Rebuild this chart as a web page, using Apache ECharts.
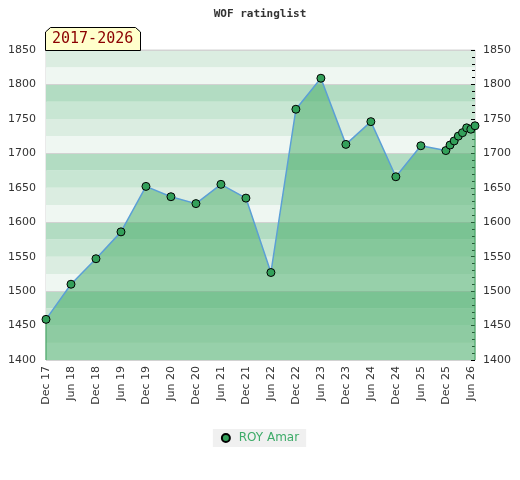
<!DOCTYPE html>
<html>
<head>
<meta charset="utf-8">
<script src="https://cdn.jsdelivr.net/npm/echarts@6/dist/echarts.min.js"></script>
<style>html,body{margin:0;padding:0;background:#fff;}#c{width:520px;height:480px;}</style>
</head>
<body>
<div id="c"></div>
<script>
var titleText = 'WOF ratinglist';
var periodText = '2017-2026';
var seriesName = 'ROY Amar';
var dates = ['2017-12','2018-06','2018-12','2019-06','2019-12','2020-06','2020-12','2021-06','2021-12','2022-06','2022-12','2023-06','2023-12','2024-06','2024-12','2025-06','2025-12','2026-01','2026-02','2026-03','2026-04','2026-05','2026-06','2026-07'];
var ratings = [1459,1510,1547,1586,1652,1637,1627,1655,1635,1527,1764,1809,1713,1746,1666,1711,1704,1712,1718,1725,1730,1737,1735,1740];
var monthNames = ['Jan','Feb','Mar','Apr','May','Jun','Jul','Aug','Sep','Oct','Nov','Dec'];
var startYear = 2017, startMonth = 12;
var yMin = 1400, yMax = 1850;

function monthIndex(s){
  var p = s.split('-');
  return (parseInt(p[0],10)*12 + parseInt(p[1],10)-1) - (startYear*12 + startMonth-1);
}
function indexLabel(i){
  var t = startYear*12 + startMonth-1 + i;
  return monthNames[t%12] + ' ' + String(Math.floor(t/12)%100).padStart(2,'0');
}
var pts = dates.map(function(d,k){ return [monthIndex(d), ratings[k]]; });
var xMax = pts[pts.length-1][0];
var firstPt = pts[0], lastPt = pts[pts.length-1];
function plain(v){ return String(v); }

var chart = echarts.init(document.getElementById('c'));
var labelFont = 'DejaVu Sans';
chart.setOption({
  animation: false,
  backgroundColor: '#fff',
  title: {
    text: titleText, left: 'center', top: 4,
    textStyle: {fontFamily: 'DejaVu Sans Mono', fontWeight: 'bold', fontSize: 11, color: '#333'}
  },
  legend: {
    bottom: 33, left: 'center',
    icon: 'circle', itemWidth: 8, itemHeight: 8, itemGap: 6,
    backgroundColor: '#f0f0f0', padding: [3, 7, 3, 8],
    textStyle: {color: '#3dab68', fontSize: 12, fontFamily: labelFont},
    formatter: function(n){ return ' ' + n; },
    data: [seriesName]
  },
  grid: {left: 46, right: 45, top: 50, bottom: 120, show: true, borderColor: '#d4d4d4', borderWidth: 1, backgroundColor: 'transparent'},
  xAxis: {
    type: 'value', min: 0, max: xMax, interval: 6,
    axisLine: {show: false}, axisTick: {show: false}, splitLine: {show: false},
    axisLabel: {rotate: 90, showMaxLabel: false, margin: 6, fontSize: 11, color: '#333', fontFamily: labelFont,
      formatter: function(v){ return indexLabel(v); }}
  },
  yAxis: [
    {type: 'value', min: yMin, max: yMax, interval: 50, position: 'left',
      axisLine: {show: false}, axisTick: {show: false}, splitLine: {show: false},
      axisLabel: {fontSize: 11, color: '#333', margin: 10, fontFamily: labelFont, formatter: plain}},
    {type: 'value', min: yMin, max: yMax, interval: 50, position: 'right',
      axisLine: {show: false}, splitLine: {show: false},
      axisTick: {show: true, inside: true, length: 4, lineStyle: {color: '#000'}},
      minorTick: {show: true, splitNumber: 5, length: 3, lineStyle: {color: '#000'}},
      axisLabel: {fontSize: 11, color: '#333', margin: 8, fontFamily: labelFont, formatter: plain}},
    {type: 'value', min: yMin, max: yMax, interval: 25, position: 'left',
      axisLine: {show: false}, axisTick: {show: false}, axisLabel: {show: false}, splitLine: {show: false},
      splitArea: {show: true, areaStyle: {color: ['#eff7f2', '#dbede1', '#c8e6d3', '#b2dcc2']}}},
    {type: 'value', min: yMin, max: yMax, interval: 100, position: 'left',
      axisLine: {show: false}, axisTick: {show: false}, axisLabel: {show: false},
      splitLine: {show: true, lineStyle: {color: '#d2d2d2', width: 1}}}
  ],
  series: [
    {
      name: seriesName, type: 'line', yAxisIndex: 0, data: pts,
      symbol: 'circle', symbolSize: 8, z: 5,
      itemStyle: {color: '#33a05a', borderColor: '#000', borderWidth: 1},
      lineStyle: {color: '#5b9fd6', width: 1.5},
      areaStyle: {color: 'rgb(70,172,103)', opacity: 0.52, origin: 'start'}
    },
    {type: 'line', yAxisIndex: 0, data: [[firstPt[0], yMin], firstPt], symbol: 'none', silent: true, z: 3,
      lineStyle: {color: '#2e9a52', width: 1}},
    {type: 'line', yAxisIndex: 0, data: [[lastPt[0], yMin], lastPt], symbol: 'none', silent: true, z: 3,
      lineStyle: {color: '#2e9a52', width: 1}}
  ],
  graphic: [
    {type: 'polygon', z: 100,
      shape: {points: [[45.5,50.5],[45.5,32],[50.5,27.5],[135.5,27.5],[140.5,32],[140.5,50.5]]},
      style: {fill: '#ffffcc', stroke: '#000', lineWidth: 1}},
    {type: 'text', z: 101, left: 52, top: 32,
      style: {text: periodText, fill: '#8b0000', font: '15px "DejaVu Sans Mono"'}}
  ]
});
</script>
</body>
</html>
